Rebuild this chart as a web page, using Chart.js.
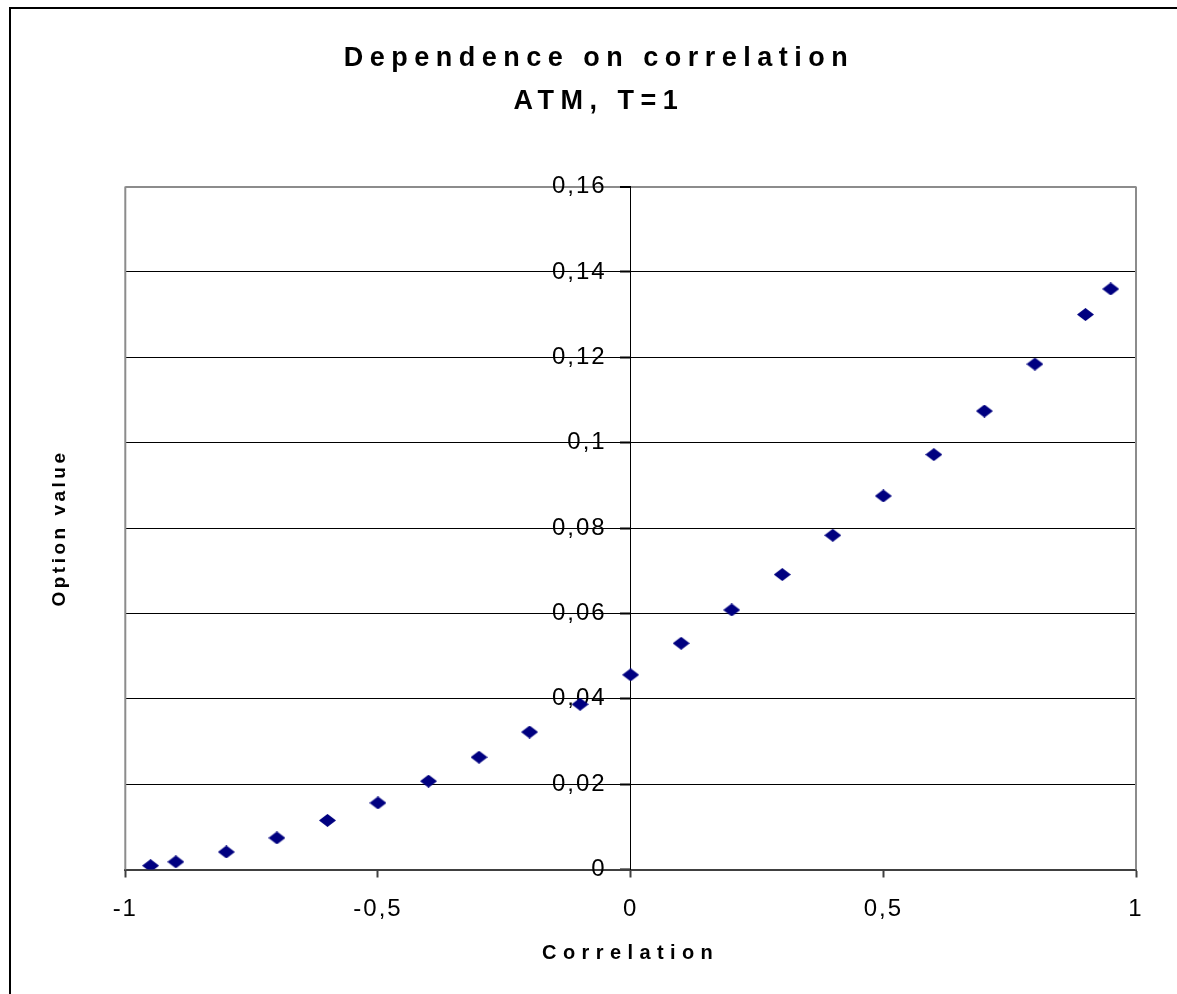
<!DOCTYPE html>
<html>
<head>
<meta charset="utf-8">
<script src="https://cdn.jsdelivr.net/npm/chart.js@4"></script>
<style>
  html, body { margin: 0; padding: 0; background: #fff; overflow: hidden; }
  #moldura { position: absolute; left: 9px; top: 7px; width: 1300px; height: 1100px; border: 2px solid #000; }
  #grafico { position: absolute; left: 0; top: 0; }
</style>
</head>
<body>
<div id="moldura"></div>
<canvas id="grafico" width="1177" height="994"></canvas>
<script>
// dados
const correlation = [-0.95, -0.9, -0.8, -0.7, -0.6, -0.5, -0.4, -0.3, -0.2, -0.1, 0, 0.1, 0.2, 0.3, 0.4, 0.5, 0.6, 0.7, 0.8, 0.9, 0.95];
const optionValue = [0.0009, 0.0018, 0.0041, 0.0074, 0.0115, 0.0156, 0.0207, 0.0263, 0.0322, 0.0387, 0.0456, 0.0530, 0.0608, 0.0691, 0.0783, 0.0875, 0.0972, 0.1074, 0.1184, 0.1300, 0.1360];
const yTicks = [0, 0.02, 0.04, 0.06, 0.08, 0.1, 0.12, 0.14, 0.16];
const xTicks = [-1, -0.5, 0, 0.5, 1];
const chartTitle = ['Dependence on correlation', 'ATM, T=1'];
const xTitle = 'Correlation';
const yTitle = 'Option value';

Chart.defaults.font.family = "'Liberation Sans', Arial, sans-serif";

function fmt(v) {
    return String(Math.round(v * 100) / 100).replace('.', ',');
}

// losango azul marinho, um pouco mais largo que alto
function makeDiamond() {
    const c = document.createElement('canvas');
    c.width = 17;
    c.height = 13;
    const g = c.getContext('2d');
    g.fillStyle = '#000080';
    g.beginPath();
    g.moveTo(0, 6.5);
    g.lineTo(8.5, 0);
    g.lineTo(17, 6.5);
    g.lineTo(8.5, 13);
    g.closePath();
    g.fill();
    return c;
}

// espacamento entre letras por tamanho de fonte (estilo Excel)
const spacing = { '27': '6.5px', '24': '2px', '20': '6.4px', '19': '3.5px' };
const letterSpacingPlugin = {
    id: 'letterSpacing',
    beforeInit(chart) {
        const ctx = chart.ctx;
        const fill = ctx.fillText;
        ctx.fillText = function (text, x, y, w) {
            const m = /(\d+)px/.exec(this.font);
            this.letterSpacing = (m && spacing[m[1]]) || '0px';
            if (w === undefined) return fill.call(this, text, x, y);
            return fill.call(this, text, x, y, w);
        };
    }
};

// bordas laterais cinza da area do grafico
const plotFrame = {
    id: 'plotFrame',
    beforeDatasetsDraw(chart) {
        const { ctx, chartArea: a } = chart;
        ctx.save();
        ctx.strokeStyle = '#8c8c8c';
        ctx.lineWidth = 2;
        ctx.beginPath();
        ctx.moveTo(a.left, a.top);
        ctx.lineTo(a.left, a.bottom);
        ctx.moveTo(a.right, a.top);
        ctx.lineTo(a.right, a.bottom);
        ctx.stroke();
        ctx.restore();
    }
};

const ctx = document.getElementById('grafico');

new Chart(ctx, {
    type: 'scatter',
    data: {
        datasets: [{
            label: 'Option value',
            data: correlation.map((x, i) => ({ x: x, y: optionValue[i] })),
            pointStyle: makeDiamond(),
            pointRadius: 7,
            showLine: false
        }]
    },
    options: {
        responsive: false,
        animation: false,
        devicePixelRatio: 1,
        layout: {
            padding: { left: 62, right: 41, top: 0, bottom: 28.7 }
        },
        plugins: {
            legend: { display: false },
            tooltip: { enabled: false },
            title: {
                display: true,
                text: chartTitle,
                color: '#000',
                font: { size: 27, weight: 'bold', lineHeight: 43 / 27 },
                padding: { top: 37.5, bottom: 63 }
            }
        },
        scales: {
            x: {
                type: 'linear',
                position: 'bottom',
                min: -1,
                max: 1,
                afterBuildTicks: axis => { axis.ticks = xTicks.map(v => ({ value: v })); },
                ticks: {
                    color: '#000',
                    font: { size: 24 },
                    padding: 17,
                    maxRotation: 0,
                    callback: v => fmt(v)
                },
                grid: { drawOnChartArea: false, tickLength: 8, tickColor: '#404040', tickWidth: 2 },
                border: { color: '#404040', width: 2 },
                title: {
                    display: true,
                    text: xTitle,
                    color: '#000',
                    font: { size: 20, weight: 'bold' },
                    padding: { top: 1, bottom: 0 }
                }
            },
            y: {
                type: 'linear',
                position: 'center',
                min: 0,
                max: 0.16,
                afterBuildTicks: axis => { axis.ticks = yTicks.map(v => ({ value: v })); },
                ticks: {
                    color: '#000',
                    font: { size: 24 },
                    padding: 14,
                    callback: v => fmt(v)
                },
                grid: {
                    color: c => c.tick.value === 0.16 ? '#8c8c8c' : (c.tick.value === 0 ? 'rgba(0,0,0,0)' : '#000'),
                    lineWidth: c => c.tick.value === 0.16 ? 2 : 1,
                    tickLength: 10,
                    tickColor: '#000',
                    tickWidth: 2
                },
                border: { color: '#000', width: 1 }
            },
            yLabel: {
                type: 'linear',
                position: 'left',
                min: 0,
                max: 0.16,
                ticks: { display: false },
                grid: { display: false },
                border: { display: false },
                afterFit: axis => { axis.width = 63.3; },
                title: {
                    display: true,
                    text: yTitle,
                    color: '#000',
                    font: { size: 19, weight: 'bold' },
                    padding: { top: -13.4, bottom: 0 }
                }
            }
        }
    },
    plugins: [letterSpacingPlugin, plotFrame]
});
</script>
</body>
</html>
